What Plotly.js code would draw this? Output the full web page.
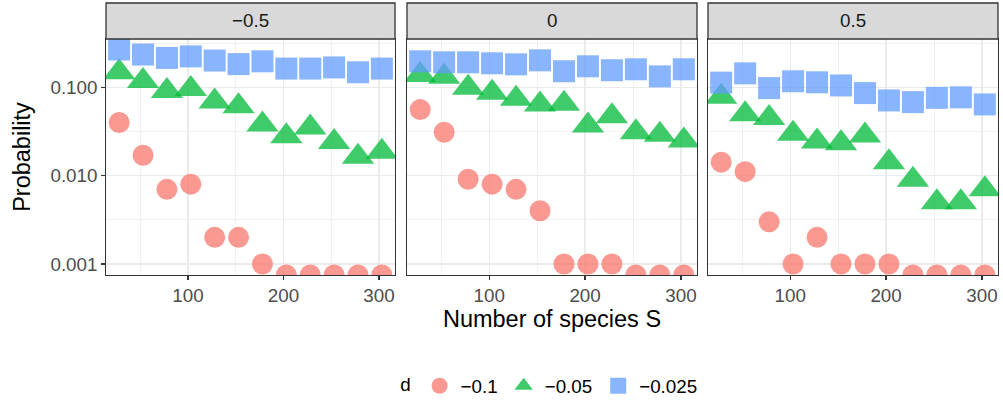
<!DOCTYPE html>
<html>
<head>
<meta charset="utf-8">
<script src="https://cdn.plot.ly/plotly-3.0.1.min.js"></script>
<style>
html,body{margin:0;padding:0;background:#fff;}
#chart{width:1003px;height:405px;}
</style>
</head>
<body>
<div id="chart"></div>
<script>
// ---- data ----
const S = [28, 53, 78, 103, 128, 153, 178, 203, 228, 253, 278, 303];
const panelLabels = ["\u22120.5", "0", "0.5"];
const dLabels = ["\u22120.1", "\u22120.05", "\u22120.025"];

// panel -0.5
const p1_d010 = [0.040, 0.017, 0.007, 0.008, 0.002, 0.002, 0.001, 0.00075, 0.00075, 0.00075, 0.00075, 0.00075];
const p1_d005 = [0.148, 0.118, 0.091, 0.096, 0.069, 0.061, 0.038, 0.028, 0.035, 0.024, 0.0164, 0.0186];
const p1_d0025 = [0.268, 0.235, 0.215, 0.224, 0.201, 0.183, 0.197, 0.163, 0.163, 0.168, 0.148, 0.163];
// panel 0
const p2_d010 = [0.056, 0.031, 0.0091, 0.008, 0.007, 0.004, 0.001, 0.001, 0.001, 0.00075, 0.00075, 0.00075];
const p2_d005 = [0.138, 0.132, 0.099, 0.087, 0.074, 0.064, 0.065, 0.037, 0.047, 0.031, 0.029, 0.025];
const p2_d0025 = [0.197, 0.192, 0.192, 0.187, 0.182, 0.202, 0.152, 0.173, 0.156, 0.160, 0.133, 0.160];
// panel 0.5
const p3_d010 = [0.0142, 0.0111, 0.003, 0.001, 0.002, 0.001, 0.001, 0.001, 0.00075, 0.00075, 0.00075, 0.00075];
const p3_d005 = [0.078, 0.0496, 0.0448, 0.0298, 0.0244, 0.0233, 0.0285, 0.0142, 0.009, 0.005, 0.005, 0.007];
const p3_d0025 = [0.113, 0.144, 0.098, 0.117, 0.114, 0.105, 0.086, 0.071, 0.068, 0.076, 0.077, 0.064];

const yTickVals = [0.001, 0.01, 0.1];
const yTickText = ["0.001", "0.010", "0.100"];
const xTickVals = [100, 200, 300];

// ---- styles ----
const FONT = "Liberation Sans, Arial, Helvetica, sans-serif";
const TICK = 18.8, TITLE = 23.5;
const colors = ["#F8766D", "#00BA38", "#619CFF"];
const symbols = ["circle", "triangle-up", "square"];
const sizes = [21, 28, 22];

const panelData = [
  [p1_d010, p1_d005, p1_d0025],
  [p2_d010, p2_d005, p2_d0025],
  [p3_d010, p3_d005, p3_d0025]
];

const W = 1003, H = 405;
const px = v => v / W, py = v => 1 - v / H;
const xDomains = [[px(106), px(395)], [px(407), px(697)], [px(708), px(998)]];
const yDomain = [py(275), py(39)];

const traces = [];
for (let k = 0; k < 3; k++) {
  for (let p = 0; p < 3; p++) {
    const sfx = p === 0 ? "" : String(p + 1);
    traces.push({
      type: "scatter", mode: "markers",
      x: S, y: panelData[p][k],
      xaxis: "x" + sfx, yaxis: "y" + sfx,
      name: dLabels[k], legendgroup: dLabels[k], showlegend: p === 0,
      cliponaxis: true,
      marker: {symbol: symbols[k], size: sizes[k], color: colors[k], opacity: 0.75, line: {width: 0}},
      hoverinfo: "x+y+name"
    });
  }
}

const layout = {
  width: W, height: H,
  margin: {l: 0, r: 0, t: 0, b: 0},
  paper_bgcolor: "#fff", plot_bgcolor: "#fff",
  font: {family: FONT, size: TICK, color: "#4d4d4d"},
  showlegend: true,
  legend: {
    orientation: "h", x: 0.549, xanchor: "center", y: py(386), yanchor: "middle",
    title: {text: "d", font: {size: TICK, color: "#000"}, side: "left"},
    font: {size: TICK, color: "#000"},
    itemsizing: "trace", tracegroupgap: 0, itemwidth: 32
  },
  shapes: [],
  annotations: []
};

for (let p = 0; p < 3; p++) {
  const sfx = p === 0 ? "" : String(p + 1);
  layout["xaxis" + sfx] = {
    domain: xDomains[p], anchor: "y" + sfx, range: [14.25, 316.75],
    tickmode: "array", tickvals: xTickVals, ticks: "outside", ticklen: 3.5, tickwidth: 1.3, tickcolor: "#333",
    tickfont: {size: TICK, color: "#4d4d4d"},
    showline: true, mirror: true, linecolor: "#333", linewidth: 1.3,
    showgrid: true, gridcolor: "#ebebeb", gridwidth: 1.3, zeroline: false,
    minor: {tickmode: "array", tickvals: [50, 150, 250], showgrid: true, gridcolor: "#ebebeb", gridwidth: 0.7, ticks: ""},
    fixedrange: true
  };
  layout["yaxis" + sfx] = {
    domain: yDomain, anchor: "x" + sfx, type: "log", range: [-3.125, -0.453],
    tickmode: "array", tickvals: yTickVals, ticktext: yTickText,
    ticks: p === 0 ? "outside" : "", ticklen: 3.5, tickwidth: 1.3, tickcolor: "#333",
    showticklabels: p === 0, tickfont: {size: TICK, color: "#4d4d4d"},
    showline: true, mirror: true, linecolor: "#333", linewidth: 1.3,
    showgrid: true, gridcolor: "#ebebeb", gridwidth: 1.3, zeroline: false,
    minor: {tickmode: "array", tickvals: [0.000316, 0.00316, 0.0316, 0.316], showgrid: true, gridcolor: "#ebebeb", gridwidth: 0.7, ticks: ""},
    fixedrange: true
  };
  if (p > 0) layout["yaxis" + sfx].matches = "y";
  // strip
  layout.shapes.push({
    type: "rect", xref: "paper", yref: "paper",
    x0: xDomains[p][0], x1: xDomains[p][1], y0: py(39), y1: py(3),
    fillcolor: "#d9d9d9", line: {color: "#333", width: 1.3}, layer: "above"
  });
  layout.annotations.push({
    xref: "paper", yref: "paper", x: (xDomains[p][0] + xDomains[p][1]) / 2, y: py(21),
    xanchor: "center", yanchor: "middle", showarrow: false,
    text: panelLabels[p], font: {size: TICK, color: "#1a1a1a"}
  });
}

layout.xaxis2.title = {text: "Number of species S", font: {size: TITLE, color: "#000"}, standoff: 4};
layout.yaxis.title = {text: "Probability", font: {size: TITLE, color: "#000"}, standoff: 13};

Plotly.newPlot("chart", traces, layout, {displayModeBar: false, staticPlot: true});
</script>
</body>
</html>
